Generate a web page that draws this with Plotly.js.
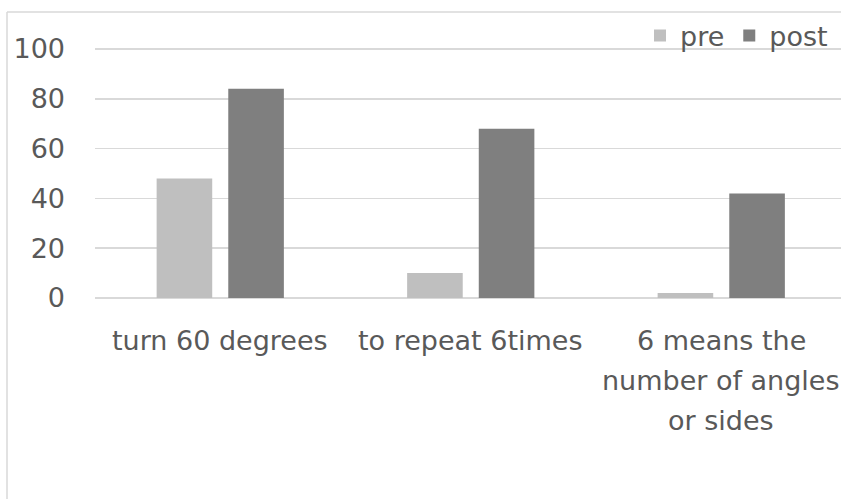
<!DOCTYPE html>
<html>
<head>
<meta charset="utf-8">
<script src="https://cdn.plot.ly/plotly-3.0.1.min.js"></script>
<style>html,body{margin:0;padding:0;background:#fff;}#chart{width:841px;height:499px;}</style>
</head>
<body>
<div id="chart"></div>
<script>
const categories = ["turn 60 degrees", "to repeat 6times", "6 means the|number of angles|or sides"];
const preValues = [48, 10, 2];
const postValues = [84, 68, 42];
const seriesNames = ["pre", "post"];
const yTicks = [0, 20, 40, 60, 80, 100];

const W = 841, H = 499;
const pxPerUnit = 2.49;
const yMax = 102;
const mL = 95, mR = 0, mB = 201;
const plotH = Math.round(yMax * pxPerUnit);
const mT = H - mB - plotH;
const plotW = W - mL - mR;
const catPx = 250.5;
const xMax = -0.5 + plotW / catPx;
const yTop = plotH / pxPerUnit;

const font = "DejaVu Sans, Verdana, sans-serif";
const txt = "#595959";
const fs = 27;

const traces = [
  {type: "bar", name: seriesNames[0], x: [0,1,2], y: preValues, marker: {color: "#bfbfbf"}, hoverinfo: "none"},
  {type: "bar", name: seriesNames[1], x: [0,1,2], y: postValues, marker: {color: "#7f7f7f"}, hoverinfo: "none"}
];

const annotations = [];
categories.forEach((c, ci) => {
  c.split("|").forEach((line, li) => {
    annotations.push({
      x: ci, xref: "x", y: 0, yref: "paper",
      yanchor: "middle", xanchor: "center",
      yshift: -42 - 40 * li,
      text: line, showarrow: false,
      font: {family: font, size: fs, color: txt}
    });
  });
});

const px2x = p => (p - mL) / plotW;
const px2y = p => (H - mB - p) / plotH;

const layout = {
  width: W, height: H,
  margin: {l: mL, r: mR, t: mT, b: mB, pad: 0},
  paper_bgcolor: "#fff", plot_bgcolor: "#fff",
  barmode: "group", bargap: 0.428, bargroupgap: 0.224,
  showlegend: true,
  legend: {orientation: "h", x: px2x(833), xanchor: "right", y: px2y(36), yanchor: "middle",
           font: {family: font, size: fs, color: txt}, bgcolor: "rgba(0,0,0,0)",
           itemwidth: 30, traceorder: "normal"},
  xaxis: {range: [-0.5, xMax], showticklabels: false, showgrid: false, zeroline: false,
          showline: false, ticks: "", fixedrange: true},
  yaxis: {range: [0, yTop], tickvals: yTicks, ticktext: yTicks.map(String),
          showgrid: true, gridcolor: "#d9d9d9", gridwidth: 1.5,
          zeroline: true, zerolinecolor: "#d9d9d9", zerolinewidth: 1.5,
          showline: false, ticks: "", ticklabelstandoff: 29,
          tickfont: {family: font, size: fs, color: txt}, fixedrange: true},
  annotations: annotations,
  shapes: [
    {type: "line", xref: "paper", yref: "paper", x0: px2x(7), x1: px2x(7), y0: px2y(12), y1: px2y(H + 5), line: {color: "#d9d9d9", width: 1.5}},
    {type: "line", xref: "paper", yref: "paper", x0: px2x(7), x1: px2x(W + 5), y0: px2y(12), y1: px2y(12), line: {color: "#d9d9d9", width: 1.5}}
  ]
};

Plotly.newPlot("chart", traces, layout, {displayModeBar: false, staticPlot: true});
</script>
</body>
</html>
